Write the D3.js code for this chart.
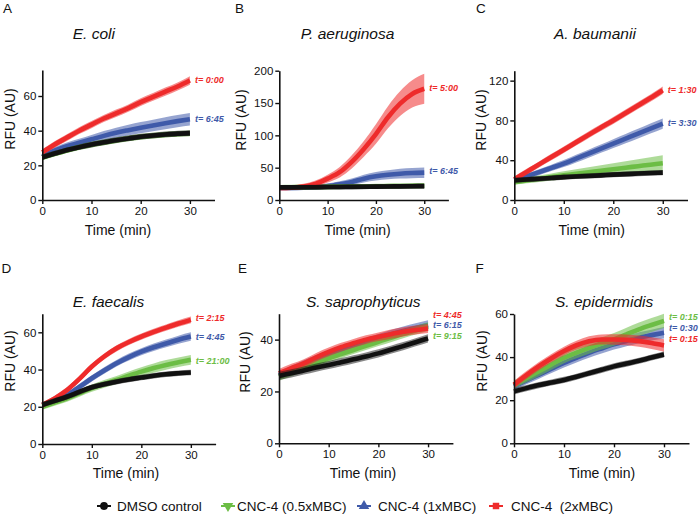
<!DOCTYPE html>
<html><head><meta charset="utf-8">
<script src="https://cdn.jsdelivr.net/npm/d3@7"></script>
<style>
body{margin:0;background:#fff}
svg{display:block}
text{font-family:"Liberation Sans",Arial,Helvetica,sans-serif;fill:#111}
</style>
</head><body>
<svg id="c" width="700" height="516"></svg>
<script>
// ---------- DATA ----------
const time = [0,2.5,5,7.5,10,12.5,15,17.5,20,22.5,25,27.5,30];
const xTicks = [0,10,20,30];
const seriesNames = ["DMSO control","CNC-4 (0.5xMBC)","CNC-4 (1xMBC)","CNC-4  (2xMBC)"];
const panelLabels = ["A","B","C","D","E","F"];
const panelTitles = ["E. coli","P. aeruginosa","A. baumanii","E. faecalis","S. saprophyticus","S. epidermidis"];
const yTicksA = [0,20,40,60];
const yTicksB = [0,50,100,150,200];
const yTicksC = [0,40,80,120];
const yTicksD = [0,20,40,60];
const yTicksE = [0,20,40];
const yTicksF = [0,20,40,60];

// E. coli
const ecoliDMSO = [24.7,26.8,28.8,30.5,32,33.3,34.5,35.5,36.5,37.2,37.8,38.3,38.6];
const ecoliHalf = [24.5,26.6,28.6,30.4,31.9,33.2,34.4,35.5,36.4,37.1,37.7,38.1,38.4];
const ecoliOne  = [25,28.5,31,33,35,37,38.8,40.3,41.7,43,44.3,45.5,46.6];
const ecoliTwo  = [27.5,32,36,40,43.5,47,50,53,56.5,59.5,62.5,65.5,69];
const ecoliDMSOErr = [0.4,0.4,0.4,0.4,0.5,0.5,0.5,0.5,0.5,0.5,0.5,0.5,0.5];
const ecoliHalfErr = [0.4,0.4,0.4,0.4,0.5,0.5,0.5,0.5,0.5,0.5,0.5,0.5,0.5];
const ecoliOneErr  = [0.6,0.8,1,1.2,1.4,1.6,1.8,2,2.1,2.2,2.3,2.4,2.5];
const ecoliTwoErr  = [0.6,0.7,0.8,0.8,0.9,0.9,1,1,1.1,1.1,1.2,1.2,1.3];
const ecoliTimes = ["","","t= 6:45","t= 0:00"];

// P. aeruginosa
const paerDMSO = [19.5,19.6,19.7,19.8,20,20.1,20.3,20.5,20.7,20.9,21.1,21.3,21.5];
const paerHalf = [19.6,19.8,19.9,20.1,20.3,20.5,20.7,20.9,21.2,21.4,21.6,21.8,22];
const paerOne  = [18.5,18.6,19,19.8,21.6,24.5,28,33,36.6,39,40.7,41.7,42.3];
const paerTwo  = [18.5,19,21,25,33,43,59,79,102,128,149,164,172];
const paerDMSOErr = [0.6,0.6,0.6,0.6,0.6,0.6,0.6,0.6,0.7,0.7,0.7,0.7,0.7];
const paerHalfErr = [0.6,0.6,0.6,0.6,0.6,0.6,0.6,0.6,0.7,0.7,0.7,0.7,0.7];
const paerOneErr  = [0.5,0.5,0.6,0.8,1,1.5,2,2.8,3.5,4,4.5,4.8,5];
const paerTwoErr  = [0.5,0.6,1,2,3,5,7,9,12,14,16,18,20];
const paerTimes = ["","","t= 6:45","t= 5:00"];

// A. baumanii
const abauDMSO = [19.8,20.6,21.3,22.1,23,23.6,24.2,24.8,25.5,26,26.6,27.1,27.5];
const abauHalf = [18,19.7,21.4,23.1,24.8,26.3,27.9,29.4,31,32.5,34,35.5,37];
const abauOne  = [19.8,23.9,28,32.3,36.6,41.6,46.6,51.6,56.7,61.7,66.7,71.8,76.8];
const abauTwo  = [20.8,28.3,35.8,43.2,50.5,58,65.5,72.8,80,87.5,95,102.5,110.4];
const abauDMSOErr = [0.6,0.6,0.6,0.6,0.6,0.6,0.6,0.6,0.6,0.6,0.6,0.6,0.6];
const abauHalfErr = [0.5,0.8,1.2,1.6,2,2.5,3,3.5,4,4.5,5,5.5,6];
const abauOneErr  = [0.5,0.8,1,1.2,1.5,1.8,2,2.2,2.4,2.6,2.8,3,3.2];
const abauTwoErr  = [0.8,1,1,1.2,1.2,1.3,1.4,1.4,1.5,1.5,1.6,1.6,1.7];
const abauTimes = ["","","t= 3:30","t= 1:30"];

// E. faecalis
const efaeDMSO = [21,23.2,25.4,28,30.5,32.1,33.5,34.7,35.7,36.7,37.5,38,38.4];
const efaeHalf = [20,22.2,24.5,27.3,30,32.3,34.4,36.7,38.9,40.8,42.5,43.9,45.2];
const efaeOne  = [21,23.3,26.3,30.7,35.3,39.5,43.4,46.7,49.6,52,54,56,57.7];
const efaeTwo  = [21,24.5,29,35,41.6,47,51.4,54.8,57.7,60.2,62.5,64.7,66.7];
const efaeDMSOErr = [0.4,0.4,0.4,0.4,0.4,0.4,0.4,0.4,0.4,0.4,0.4,0.4,0.4];
const efaeHalfErr = [0.5,0.6,0.7,0.8,0.9,1,1.1,1.2,1.3,1.4,1.5,1.5,1.6];
const efaeOneErr  = [0.4,0.5,0.5,0.6,0.6,0.7,0.7,0.8,0.8,0.9,1,1.1,1.2];
const efaeTwoErr  = [0.4,0.4,0.5,0.5,0.5,0.5,0.6,0.6,0.6,0.6,0.6,0.7,0.7];
const efaeTimes = ["","t= 21:00","t= 4:45","t= 2:15"];

// S. saprophyticus
const ssapDMSO = [26,27,28.1,29.2,30.2,31.3,32.4,33.5,34.7,36.1,37.5,39,40.5];
const ssapHalf = [25.7,27.4,29.2,31,32.8,34.4,36,37.6,39.2,40.7,42.2,43.6,45];
const ssapOne  = [26.3,28.3,30.5,32.5,34.3,36,37.5,39,40.5,42,43.3,44.5,45.6];
const ssapTwo  = [27,29,30.8,33.2,35.3,37.1,38.6,40,41.1,42.1,43,43.7,44.3];
const ssapDMSOErr = [0.8,0.8,0.8,0.8,0.8,0.8,0.8,0.8,0.8,0.8,0.8,0.8,0.8];
const ssapHalfErr = [0.8,0.8,0.8,0.8,0.8,0.8,0.8,0.8,0.9,0.9,0.9,0.9,0.9];
const ssapOneErr  = [0.8,0.8,0.8,0.8,0.8,0.8,0.8,0.9,0.9,0.9,1,1,1.1];
const ssapTwoErr  = [0.9,0.9,0.9,0.9,0.9,0.9,0.9,0.9,0.9,1,1,1,1];
const ssapTimes = ["","t= 9:15","t= 6:15","t= 4:45"];

// S. epidermidis
const sepiDMSO = [24.1,25.6,27,28.2,29.4,30.9,32.5,34.1,35.7,37,38.3,39.8,41.2];
const sepiHalf = [27.2,30.3,33.4,36.6,39.7,42.1,44.3,46.3,48.2,50.6,52.9,54.9,56.8];
const sepiOne  = [26.4,29.2,31.9,34.6,37.3,39.7,42,44,45.9,47.5,49,50.2,51.3];
const sepiTwo  = [27.2,31.7,35.8,39.5,42.8,45.5,47.4,48.2,48.2,48,47.4,46.5,45.4];
const sepiDMSOErr = [0.5,0.5,0.5,0.5,0.5,0.5,0.5,0.5,0.5,0.5,0.5,0.5,0.5];
const sepiHalfErr = [1,1.2,1.4,1.5,1.6,1.7,1.8,1.9,2,2.1,2.2,2.3,2.4];
const sepiOneErr  = [0.8,0.9,1,1.1,1.2,1.3,1.4,1.4,1.5,1.5,1.6,1.6,1.7];
const sepiTwoErr  = [0.8,0.9,1,1,1.1,1.2,1.3,1.4,1.5,1.6,1.7,1.8,2];
const sepiTimes = ["","t= 0:15","t= 0:30","t= 0:15"];

// ---------- STYLE / LAYOUT ----------
const colors = ["#111111","#6cbd45","#3f5aa9","#ee2b2b"];
const drawOrder = [2,1,3,0];

const panels = [
  {vals:[ecoliDMSO,ecoliHalf,ecoliOne,ecoliTwo], errs:[ecoliDMSOErr,ecoliHalfErr,ecoliOneErr,ecoliTwoErr], times:ecoliTimes, yTicks:yTicksA, ymax:75,
   x0:42.3, x1:214.5, yb:200, yt:70, lab:[3,13], title:[72.7,39], ylab:[10,119], xlab:[118,235], lblY:{2:46.6,3:69.5}},
  {vals:[paerDMSO,paerHalf,paerOne,paerTwo], errs:[paerDMSOErr,paerHalfErr,paerOneErr,paerTwoErr], times:paerTimes, yTicks:yTicksB, ymax:200,
   x0:279.3, x1:448.4, yb:200, yt:70.7, lab:[235,13], title:[300.7,39], ylab:[241,120], xlab:[357.6,235], lblY:{2:44.8,3:173}},
  {vals:[abauDMSO,abauHalf,abauOne,abauTwo], errs:[abauDMSOErr,abauHalfErr,abauOneErr,abauTwoErr], times:abauTimes, yTicks:yTicksC, ymax:130,
   x0:514.3, x1:687.5, yb:200, yt:70.7, lab:[476,13], title:[554,39], ylab:[481,120], xlab:[591.7,235], lblY:{2:77.5,3:111}},
  {vals:[efaeDMSO,efaeHalf,efaeOne,efaeTwo], errs:[efaeDMSOErr,efaeHalfErr,efaeOneErr,efaeTwoErr], times:efaeTimes, yTicks:yTicksD, ymax:70,
   x0:42.3, x1:215.6, yb:444, yt:313.7, lab:[1.5,273], title:[72.7,307], ylab:[10,361], xlab:[126,478], lblY:{1:44.6,2:57.3,3:67.6}},
  {vals:[ssapDMSO,ssapHalf,ssapOne,ssapTwo], errs:[ssapDMSOErr,ssapHalfErr,ssapOneErr,ssapTwoErr], times:ssapTimes, yTicks:yTicksE, ymax:50,
   x0:279, x1:452.9, yb:443.3, yt:313.7, lab:[238,273], title:[306,307], ylab:[245,362], xlab:[363,478], lblY:{1:41.6,2:45.6,3:49.7}},
  {vals:[sepiDMSO,sepiHalf,sepiOne,sepiTwo], errs:[sepiDMSOErr,sepiHalfErr,sepiOneErr,sepiTwoErr], times:sepiTimes, yTicks:yTicksF, ymax:60,
   x0:514, x1:689, yb:443.3, yt:314, lab:[475.5,273], title:[555,307], ylab:[482,361], xlab:[602,478], lblY:{1:58.6,2:53.6,3:48.6}}
];

const svg = d3.select("#c");

panels.forEach((p, pi) => {
  const g = svg.append("g");
  const x = d3.scaleLinear().domain([0,35]).range([p.x0, p.x1]);
  const y = d3.scaleLinear().domain([0,p.ymax]).range([p.yb, p.yt]);

  g.append("text").attr("x", p.lab[0]).attr("y", p.lab[1]).attr("font-size", 13.5).text(panelLabels[pi]);
  g.append("text").attr("x", p.title[0]).attr("y", p.title[1]).attr("font-size", 15.5)
    .attr("font-style", "italic").text(panelTitles[pi]);
  g.append("text").attr("transform", `translate(${p.ylab[0]},${p.ylab[1]}) rotate(-90)`)
    .attr("text-anchor", "middle").attr("dy", "0.35em").attr("font-size", 14).text("RFU (AU)");
  g.append("text").attr("x", p.xlab[0]).attr("y", p.xlab[1]).attr("text-anchor", "middle")
    .attr("font-size", 14).text("Time (min)");

  const plot = g.append("g");
  drawOrder.forEach(si => {
    const pts = time.map((t, i) => ({t, v: p.vals[si][i], e: p.errs[si][i]}));
    const area = d3.area().x(d => x(d.t)).y0(d => y(d.v - d.e) + 2).y1(d => y(d.v + d.e) - 2).curve(d3.curveMonotoneX);
    const line = d3.line().x(d => x(d.t)).y(d => y(d.v)).curve(d3.curveMonotoneX);
    plot.append("path").datum(pts).attr("d", area).attr("fill", colors[si]).attr("fill-opacity", si === 0 ? 0.5 : 0.55);
    plot.append("path").datum(pts).attr("d", line).attr("fill", "none")
      .attr("stroke", colors[si]).attr("stroke-width", 4.6).attr("stroke-linecap", "butt");
  });

  const xa = g.append("g").attr("transform", `translate(0,${p.yb})`)
    .call(d3.axisBottom(x).tickValues(xTicks).tickSize(4).tickSizeOuter(0).tickPadding(3));
  const ya = g.append("g").attr("transform", `translate(${p.x0},0)`)
    .call(d3.axisLeft(y).tickValues(p.yTicks).tickSize(4).tickSizeOuter(0).tickPadding(2));
  [xa, ya].forEach(a => {
    a.select(".domain").attr("stroke", "#111").attr("stroke-width", 1.6);
    a.selectAll(".tick line").attr("stroke", "#111").attr("stroke-width", 1.4);
    a.selectAll(".tick text").attr("font-size", 11.5).attr("fill", "#111")
      .style("font-family", '"Liberation Sans",Arial,sans-serif');
  });

  Object.keys(p.lblY).forEach(k => {
    const si = +k;
    g.append("text").attr("x", x(30) + 5).attr("y", y(p.lblY[k])).attr("dy", "0.35em")
      .attr("font-size", 9).attr("font-weight", "bold").attr("font-style", "italic")
      .style("fill", colors[si]).text(p.times[si]);
  });
});

// legend
const legendItems = [
  {si:0, mx:104, tx:117, shape:d3.symbolCircle},
  {si:1, mx:228, tx:237, shape:d3.symbolTriangle, rot:180},
  {si:2, mx:364, tx:378, shape:d3.symbolTriangle, rot:0},
  {si:3, mx:496, tx:511, shape:d3.symbolSquare}
];
const ly = 506;
const lg = svg.append("g");
legendItems.forEach(it => {
  lg.append("line").attr("x1", it.mx - 7).attr("x2", it.mx + 7).attr("y1", ly).attr("y2", ly)
    .attr("stroke", colors[it.si]).attr("stroke-width", 2);
  lg.append("path").attr("d", d3.symbol().type(it.shape).size(it.shape === d3.symbolSquare ? 42 : 48)())
    .attr("transform", `translate(${it.mx},${ly}) rotate(${it.rot || 0})`).attr("fill", colors[it.si]);
  lg.append("text").attr("x", it.tx).attr("y", ly).attr("dy", "0.35em").attr("font-size", 13.5)
    .style("white-space", "pre").text(seriesNames[it.si]);
});
</script>
</body></html>
